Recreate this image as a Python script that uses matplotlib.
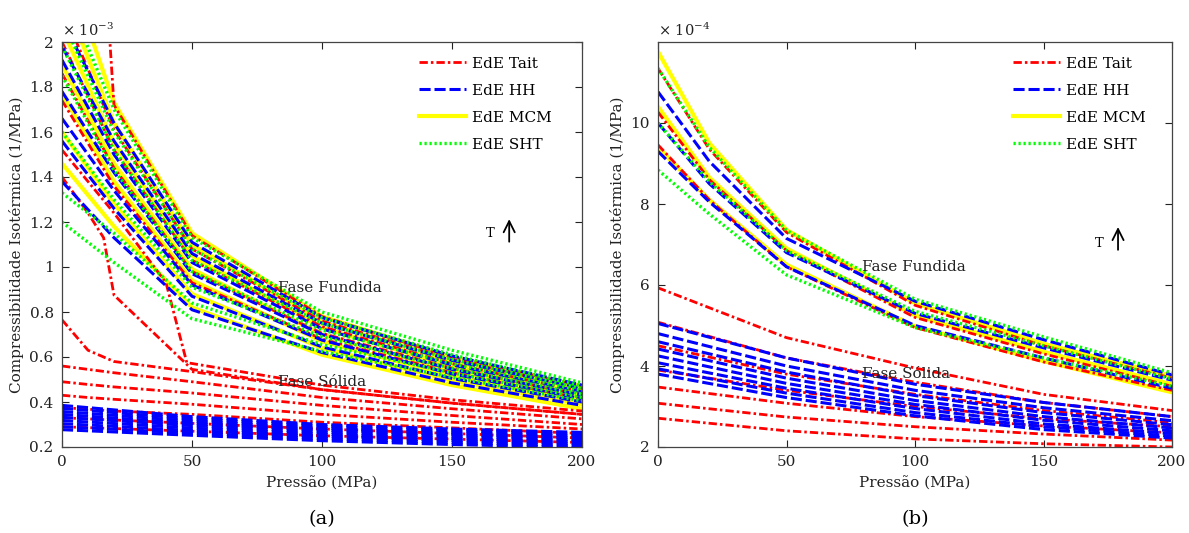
import matplotlib
matplotlib.use("Agg")
import matplotlib.pyplot as plt
from matplotlib.lines import Line2D
from matplotlib.ticker import FuncFormatter

plt.rcParams['font.family'] = ['DejaVu Serif']
plt.rcParams['lines.scale_dashes'] = False
plt.rcParams['mathtext.fontset'] = 'dejavuserif'

# ---------------- data: panel (a), units of 1e-3 1/MPa ----------------
P_melt = [0, 20, 50, 100, 150, 200]
mcm_melt_a = [
    [2.40, 1.73, 1.15, 0.780, 0.600, 0.470],
    [2.22, 1.64, 1.10, 0.755, 0.580, 0.455],
    [2.06, 1.55, 1.05, 0.730, 0.560, 0.440],
    [1.90, 1.46, 0.99, 0.700, 0.540, 0.425],
    [1.77, 1.38, 0.94, 0.670, 0.515, 0.405],
    [1.60, 1.28, 0.88, 0.640, 0.495, 0.390],
    [1.46, 1.18, 0.82, 0.610, 0.475, 0.370],
]
sht_melt_a = [
    [2.25, 1.70, 1.13, 0.800, 0.630, 0.485],
    [2.10, 1.60, 1.08, 0.775, 0.610, 0.470],
    [1.98, 1.52, 1.03, 0.750, 0.590, 0.460],
    [1.85, 1.43, 0.98, 0.720, 0.570, 0.450],
    [1.60, 1.30, 0.91, 0.690, 0.550, 0.435],
    [1.33, 1.15, 0.84, 0.655, 0.530, 0.420],
    [1.20, 1.02, 0.77, 0.625, 0.510, 0.405],
]
hh_melt_a = [
    [2.10, 1.64, 1.11, 0.775, 0.605, 0.475],
    [1.98, 1.56, 1.06, 0.750, 0.585, 0.460],
    [1.92, 1.50, 1.02, 0.725, 0.565, 0.445],
    [1.78, 1.42, 0.97, 0.700, 0.545, 0.430],
    [1.66, 1.34, 0.92, 0.675, 0.525, 0.415],
    [1.56, 1.26, 0.87, 0.645, 0.505, 0.400],
    [1.38, 1.13, 0.81, 0.620, 0.485, 0.385],
]
tait_melt_a = [
    [2.15, 1.61, 1.08, 0.760, 0.590, 0.460],
    [2.00, 1.52, 1.03, 0.735, 0.570, 0.445],
    [1.86, 1.44, 0.98, 0.705, 0.550, 0.430],
    [1.74, 1.36, 0.93, 0.680, 0.530, 0.415],
]
# Tait curves crossing from melt to solid behaviour
tait_tr1_P = [0, 10, 20, 50, 100, 150, 200]
tait_tr1 = [5.00, 3.50, 1.72, 1.14, 0.780, 0.600, 0.470]
tait_tr2_P = [0, 10, 16, 20, 50, 100, 150, 200]
tait_tr2 = [1.40, 1.24, 1.13, 0.875, 0.545, 0.455, 0.395, 0.345]
tait_tr3_P = [0, 20, 40, 48, 100, 150, 200]
tait_tr3 = [1.52, 1.24, 0.93, 0.575, 0.475, 0.410, 0.360]

P_solid_tait_a = [0, 10, 20, 50, 100, 150, 200]
tait_solid_a = [
    [0.765, 0.630, 0.580, 0.535, 0.455, 0.395, 0.345],
    [0.560, 0.545, 0.530, 0.490, 0.420, 0.370, 0.325],
    [0.490, 0.478, 0.467, 0.440, 0.385, 0.340, 0.300],
    [0.430, 0.420, 0.412, 0.390, 0.345, 0.310, 0.280],
    [0.375, 0.368, 0.360, 0.345, 0.310, 0.285, 0.260],
    [0.330, 0.325, 0.320, 0.305, 0.280, 0.260, 0.240],
    [0.290, 0.286, 0.282, 0.270, 0.250, 0.235, 0.220],
]
P_solid = [0, 50, 100, 150, 200]
hh_solid_a = [
    [0.385, 0.335, 0.300, 0.280, 0.265],
    [0.372, 0.325, 0.292, 0.272, 0.257],
    [0.358, 0.315, 0.283, 0.263, 0.248],
    [0.345, 0.305, 0.275, 0.255, 0.240],
    [0.332, 0.295, 0.266, 0.247, 0.232],
    [0.318, 0.284, 0.257, 0.238, 0.224],
    [0.304, 0.273, 0.248, 0.229, 0.215],
    [0.290, 0.262, 0.238, 0.220, 0.206],
    [0.277, 0.252, 0.228, 0.211, 0.198],
]

# ---------------- data: panel (b), units of 1e-4 1/MPa ----------------
mcm_melt_b = [
    [11.76, 9.50, 7.36, 5.55, 4.55, 3.75],
    [10.40, 8.65, 6.90, 5.25, 4.35, 3.55],
    [9.40, 8.10, 6.50, 4.98, 4.12, 3.35],
]
tait_melt_b = [
    [11.35, 9.35, 7.30, 5.50, 4.50, 3.70],
    [10.27, 8.60, 6.85, 5.20, 4.30, 3.50],
    [9.46, 8.10, 6.45, 4.95, 4.10, 3.40],
]
hh_melt_b = [
    [10.77, 9.05, 7.15, 5.60, 4.65, 3.78],
    [10.00, 8.50, 6.80, 5.30, 4.45, 3.65],
    [9.30, 8.05, 6.45, 5.00, 4.20, 3.45],
]
sht_melt_b = [
    [11.35, 9.40, 7.35, 5.65, 4.72, 3.83],
    [10.00, 8.55, 6.85, 5.35, 4.50, 3.68],
    [8.84, 7.75, 6.25, 4.95, 4.20, 3.50],
]
tait_solid_b = [
    [5.93, 4.70, 3.95, 3.30, 2.90],
    [5.08, 4.20, 3.60, 3.10, 2.75],
    [4.50, 3.80, 3.30, 2.90, 2.60],
    [3.90, 3.40, 3.00, 2.70, 2.50],
    [3.48, 3.08, 2.75, 2.52, 2.35],
    [3.08, 2.74, 2.50, 2.32, 2.17],
    [2.71, 2.40, 2.20, 2.08, 2.00],
]
hh_solid_b = [
    [5.05, 4.20, 3.55, 3.10, 2.75],
    [4.80, 4.00, 3.40, 2.97, 2.65],
    [4.60, 3.85, 3.27, 2.85, 2.55],
    [4.42, 3.70, 3.15, 2.75, 2.47],
    [4.25, 3.57, 3.05, 2.66, 2.40],
    [4.08, 3.45, 2.95, 2.57, 2.33],
    [3.93, 3.33, 2.85, 2.50, 2.27],
    [3.80, 3.22, 2.77, 2.43, 2.22],
]

legend_labels = ['EdE Tait', 'EdE HH', 'EdE MCM', 'EdE SHT']

# ---------------- styles ----------------
RED = dict(color=(1, 0, 0), lw=2.0, dashes=(6.0, 2.2, 1.8, 2.2))
BLUE = dict(color=(0, 0, 1), lw=2.2, dashes=(8.0, 2.8))
YEL = dict(color=(1, 1, 0), lw=3.0, linestyle='-')
GRN = dict(color=(0, 1, 0), lw=2.4, dashes=(1.6, 2.0))
TXT = '#222222'
FS = 11

fig = plt.figure(figsize=(11.89, 5.33), dpi=100)
axA = fig.add_axes([62/1189, 1-447/533, 520/1189, 405/533])
axB = fig.add_axes([658/1189, 1-447/533, 514/1189, 405/533])


def style_axis(ax, ylim, yticks, exp, panel, leg_x):
    ax.set_xlim(0, 200)
    ax.set_ylim(*ylim)
    ax.set_xticks([0, 50, 100, 150, 200])
    ax.set_yticks(yticks)
    ax.yaxis.set_major_formatter(FuncFormatter(lambda v, p: '%g' % round(v, 3)))
    ax.tick_params(direction='in', top=True, right=True, length=5, width=0.8,
                   labelsize=FS, colors=TXT, pad=6)
    for s in ax.spines.values():
        s.set_color('#444444')
        s.set_linewidth(0.9)
    ax.set_xlabel('Pressão (MPa)', fontsize=FS, color=TXT, labelpad=5)
    ax.set_ylabel('Compressibilidade Isotérmica (1/MPa)', fontsize=FS, color=TXT, labelpad=4)
    ax.text(0.0, 1.008, r'× 10$^{%s}$' % exp, transform=ax.transAxes,
            fontsize=10.5, color=TXT, ha='left', va='bottom')
    ax.text(0.5, -0.177, panel, transform=ax.transAxes, fontsize=14, ha='center',
            va='center', color='black')
    handles = [Line2D([], [], **RED), Line2D([], [], **BLUE),
               Line2D([], [], **YEL), Line2D([], [], **GRN)]
    ax.legend(handles, legend_labels, loc='upper left', bbox_to_anchor=(leg_x, 0.99),
              frameon=False, fontsize=FS, handlelength=3.1, handletextpad=0.35,
              labelspacing=0.85, borderpad=0.2)


# ---- panel (a)
for row in mcm_melt_a:
    axA.plot(P_melt, row, **YEL)
axA.plot(tait_tr1_P, tait_tr1, **RED)
axA.plot(tait_tr2_P, tait_tr2, **RED)
axA.plot(tait_tr3_P, tait_tr3, **RED)
for row in tait_melt_a:
    axA.plot(P_melt, row, **RED)
for row in tait_solid_a:
    axA.plot(P_solid_tait_a, row, **RED)
for row in hh_melt_a:
    axA.plot(P_melt, row, **BLUE)
for row in hh_solid_a:
    axA.plot(P_solid, row, **BLUE)
for row in sht_melt_a:
    axA.plot(P_melt, row, **GRN)
style_axis(axA, (0.2, 2.0), [0.2, 0.4, 0.6, 0.8, 1.0, 1.2, 1.4, 1.6, 1.8, 2.0], '-3', '(a)', 0.666)
axA.text(83, 0.905, 'Fase Fundida', fontsize=FS, color=TXT, va='center')
axA.text(83, 0.49, 'Fase Sólida', fontsize=FS, color=TXT, va='center')
axA.text(163, 1.15, 'T', fontsize=9.5, color='black', va='center')
axA.annotate('', xy=(172, 1.225), xytext=(172, 1.10),
             arrowprops=dict(arrowstyle='->', lw=1.3, color='black', mutation_scale=20))

# ---- panel (b)
for row in mcm_melt_b:
    axB.plot(P_melt, row, **YEL)
for row in tait_melt_b:
    axB.plot(P_melt, row, **RED)
for row in tait_solid_b:
    axB.plot(P_solid, row, **RED)
for row in hh_melt_b:
    axB.plot(P_melt, row, **BLUE)
for row in hh_solid_b:
    axB.plot(P_solid, row, **BLUE)
for row in sht_melt_b:
    axB.plot(P_melt, row, **GRN)
style_axis(axB, (2, 12), [2, 4, 6, 8, 10], '-4', '(b)', 0.67)
axB.text(79.5, 6.44, 'Fase Fundida', fontsize=FS, color=TXT, va='center')
axB.text(79.5, 3.8, 'Fase Sólida', fontsize=FS, color=TXT, va='center')
axB.text(170, 7.03, 'T', fontsize=9.5, color='black', va='center')
axB.annotate('', xy=(179, 7.5), xytext=(179, 6.8),
             arrowprops=dict(arrowstyle='->', lw=1.3, color='black', mutation_scale=20))

fig.savefig('out.png', dpi=100)
